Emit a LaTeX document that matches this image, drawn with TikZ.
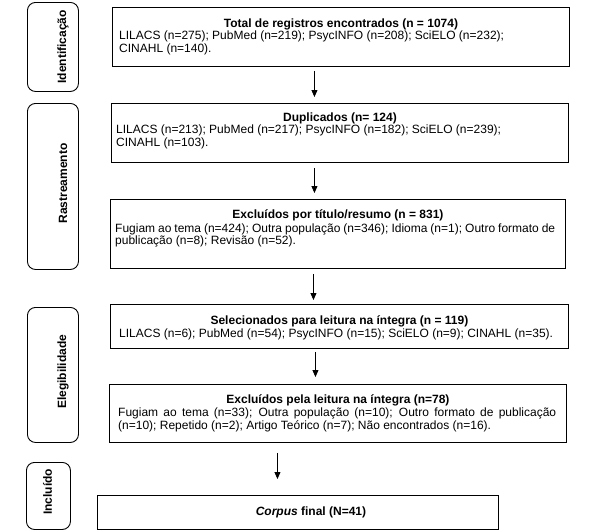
\documentclass[tikz,border=0pt]{standalone}
\usepackage{fontspec}
\setmainfont{Liberation Sans}
\usetikzlibrary{arrows.meta,calc}
\begin{document}
\begin{tikzpicture}[x=1pt,y=-1pt,
  phase/.style={draw, rounded corners=8pt, line width=0.9pt, inner sep=0pt, anchor=north west},
  box/.style={draw, line width=0.9pt, inner sep=0pt, anchor=north west},
  title/.style={font=\bfseries\fontsize{12}{13}\selectfont, anchor=base, inner sep=0pt},
  body/.style={font=\fontsize{12}{13}\selectfont, anchor=base west, inner sep=0pt},
  plabel/.style={font=\bfseries\fontsize{12}{13}\selectfont, rotate=90, inner sep=0pt},
  arr/.style={-{Triangle[length=7pt,width=6pt]}, line width=0.8pt}]
\useasboundingbox (0,0) rectangle (594,531);

% phase boxes
\node[phase, minimum width=51pt, minimum height=89pt] (p1) at (27,2) {};
\node[phase, minimum width=51pt, minimum height=166pt] (p2) at (27,103) {};
\node[phase, minimum width=51pt, minimum height=135pt] (p3) at (27,307) {};
\node[phase, minimum width=44pt, minimum height=67pt] (p4) at (26,462) {};
\node[plabel] (l1) at ($(p1.center)+(10,0)$) {Identificação};
\node[plabel] (l2) at ($(p2.center)+(10,-3)$) {Rastreamento};
\node[plabel] (l3) at ($(p3.center)+(10,-3)$) {Elegibilidade};
\node[plabel] (l4) at ($(p4.center)+(-1,-4)$) {Incluído};

% main boxes
\node[box, minimum width=457pt, minimum height=59pt] (b1) at (112,7) {};
\node[box, minimum width=457pt, minimum height=59pt] (b2) at (111,103) {};
\node[box, minimum width=455pt, minimum height=69pt] (b3) at (110,199) {};
\node[box, minimum width=458pt, minimum height=44pt] (b4) at (110,304) {};
\node[box, minimum width=457pt, minimum height=58pt] (b5) at (109,384) {};
\node[box, minimum width=401pt, minimum height=34pt] (b6) at (97,495) {};

% texts
\node[title] (t1) at ($(b1.north)+(0,20)$) {Total de registros encontrados (n = 1074)};
\node[body] (t1a) at ($(b1.north west)+(7,32.5)$) {LILACS (n=275); PubMed (n=219); PsycINFO (n=208); SciELO (n=232);};
\node[body] (t1b) at ($(b1.north west)+(7,45)$) {CINAHL (n=140).};

\node[title] (t2) at ($(b2.north)+(0,18)$) {Duplicados (n= 124)};
\node[body] (t2a) at ($(b2.north west)+(5,30)$) {LILACS (n=213); PubMed (n=217); PsycINFO (n=182); SciELO (n=239);};
\node[body] (t2b) at ($(b2.north west)+(5,43)$) {CINAHL (n=103).};

\node[title] (t3) at ($(b3.north)+(0,19)$) {Excluídos por título/resumo (n = 831)};
\node[body] (t3a) at ($(b3.north west)+(5,33)$) {\makebox[440pt][s]{Fugiam ao tema (n=424); Outra população (n=346); Idioma (n=1); Outro formato de}};
\node[body] (t3b) at ($(b3.north west)+(5,45)$) {publicação (n=8); Revisão (n=52).};

\node[title] (t4) at ($(b4.north)+(0,20)$) {Selecionados para leitura na íntegra (n = 119)};
\node[body] (t4a) at ($(b4.north west)+(9,33)$) {LILACS (n=6); PubMed (n=54); PsycINFO (n=15); SciELO (n=9); CINAHL (n=35).};

\node[title] (t5) at ($(b5.north)+(0,19)$) {Excluídos pela leitura na íntegra (n=78)};
\node[body] (t5a) at ($(b5.north west)+(9,32)$) {\makebox[438pt][s]{Fugiam ao tema (n=33); Outra população (n=10); Outro formato de publicação}};
\node[body] (t5b) at ($(b5.north west)+(9,45)$) {(n=10); Repetido (n=2); Artigo Teórico (n=7); Não encontrados (n=16).};

\node[title] (t6) at ($(b6.north)+(13,20)$) {\itshape Corpus\upshape{} final (N=41)};

% arrows
\draw[arr] ($(b1.south)+(-26.5,4)$) -- ($(b2.north)+(-25.5,-6)$);
\draw[arr] ($(b2.south)+(-25.5,5)$) -- ($(b3.north)+(-23.5,-6)$);
\draw[arr] ($(b3.south)+(-24.5,5)$) -- ($(b4.north)+(-26,-4)$);
\draw[arr] ($(b4.south)+(-24,3)$) -- ($(b5.north)+(-22.5,-7)$);
\draw[arr] ($(b5.south)+(-60.5,10)$) -- ($(b6.north)+(-20.5,-16)$);
\end{tikzpicture}
\end{document}
